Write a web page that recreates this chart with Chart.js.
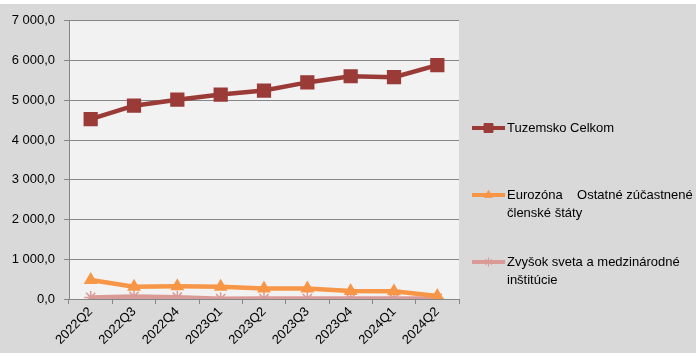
<!DOCTYPE html>
<html>
<head>
<meta charset="utf-8">
<script src="https://cdn.jsdelivr.net/npm/chart.js@4.4.1/dist/chart.umd.min.js"></script>
<style>
  html, body { margin: 0; padding: 0; background: #fff; }
  #wrap { position: absolute; left: 0; top: 4px; width: 696px; height: 349px; background: #d9d9d9; }
</style>
</head>
<body>
<div id="wrap"><canvas id="chart"></canvas></div>
<script>
// dáta
const quarters = ['2022Q2', '2022Q3', '2022Q4', '2023Q1', '2023Q2', '2023Q3', '2023Q4', '2024Q1', '2024Q2'];
const tuzemsko = [4525, 4865, 5015, 5145, 5245, 5450, 5605, 5580, 5885];
const eurozona = [480, 310, 318, 310, 262, 265, 200, 195, 75];
const zvysok = [40, 65, 45, 8, 10, 10, 10, 10, 15];
const legendLines = [
  ['Tuzemsko Celkom'],
  ['Eurozóna    Ostatné zúčastnené', 'členské štáty'],
  ['Zvyšok sveta a medzinárodné', 'inštitúcie']
];
const yMax = 7000;
const yStep = 1000;

const FONT = '"Liberation Sans", Arial, sans-serif';

function fmt(v) {
  const s = Math.round(v).toString().replace(/\B(?=(\d{3})+(?!\d))/g, ' ');
  return s + ',0';
}

// pozadie plochy grafu
const plotBg = {
  id: 'plotBg',
  beforeDraw(chart) {
    const a = chart.chartArea;
    const ctx = chart.ctx;
    ctx.save();
    ctx.fillStyle = '#f2f2f2';
    ctx.fillRect(a.left, a.top, a.right - a.left, a.bottom - a.top);
    ctx.restore();
  }
};

// legenda vpravo
const sideLegend = {
  id: 'sideLegend',
  afterDraw(chart) {
    const ctx = chart.ctx;
    const rows = [124, 191, 258];
    ctx.save();
    chart.data.datasets.forEach((ds, i) => {
      const y = rows[i];
      ctx.strokeStyle = ds.borderColor;
      ctx.fillStyle = ds.borderColor;
      ctx.lineWidth = 4;
      ctx.beginPath();
      ctx.moveTo(472, y);
      ctx.lineTo(505, y);
      ctx.stroke();
      ctx.lineWidth = 1;
      Chart.helpers.drawPoint(ctx, {
        pointStyle: ds.pointStyle,
        radius: ds.pointRadius * 0.7,
        borderWidth: 1
      }, 488.5, y);
      ctx.fillStyle = '#000';
      ctx.font = '13px ' + FONT;
      ctx.textBaseline = 'middle';
      legendLines[i].forEach((t, k) => {
        ctx.fillText(t, 507, y + k * 18);
      });
    });
    ctx.restore();
  }
};

function series(label, data, color, style, radius) {
  return {
    label: label,
    data: data,
    borderColor: color,
    backgroundColor: color,
    pointBackgroundColor: color,
    pointBorderColor: color,
    borderWidth: 4.5,
    pointStyle: style,
    pointRadius: radius,
    pointHoverRadius: radius,
    pointBorderWidth: 1.5,
    tension: 0
  };
}

new Chart(document.getElementById('chart'), {
  type: 'line',
  data: {
    labels: quarters,
    datasets: [
      series(legendLines[0].join(' '), tuzemsko, '#9b3b38', 'rect', 9),
      series(legendLines[1].join(' '), eurozona, '#f79646', 'triangle', 6.5),
      series(legendLines[2].join(' '), zvysok, '#d99a98', 'star', 6.5)
    ]
  },
  options: {
    responsive: true,
    maintainAspectRatio: false,
    animation: false,
    layout: { padding: { left: 0, top: 16, right: 237, bottom: 0 } },
    plugins: {
      legend: { display: false },
      tooltip: { enabled: false }
    },
    scales: {
      x: {
        offset: true,
        grid: {
          offset: true,
          drawOnChartArea: false,
          drawTicks: true,
          tickLength: 5,
          color: '#868686'
        },
        border: { color: '#868686', width: 1 },
        ticks: {
          color: '#000',
          font: { size: 13, family: FONT },
          maxRotation: 45,
          minRotation: 45,
          padding: 0,
          autoSkip: false
        },
        afterFit(axis) { axis.height = 54; }
      },
      y: {
        min: 0,
        max: yMax,
        grid: {
          color: '#868686',
          drawTicks: true,
          tickLength: 5
        },
        border: { color: '#868686', width: 1 },
        ticks: {
          stepSize: yStep,
          color: '#000',
          font: { size: 13, family: FONT },
          padding: 9,
          callback: (v) => fmt(v)
        },
        afterFit(axis) { axis.width = 69; }
      }
    }
  },
  plugins: [plotBg, sideLegend]
});
</script>
</body>
</html>
